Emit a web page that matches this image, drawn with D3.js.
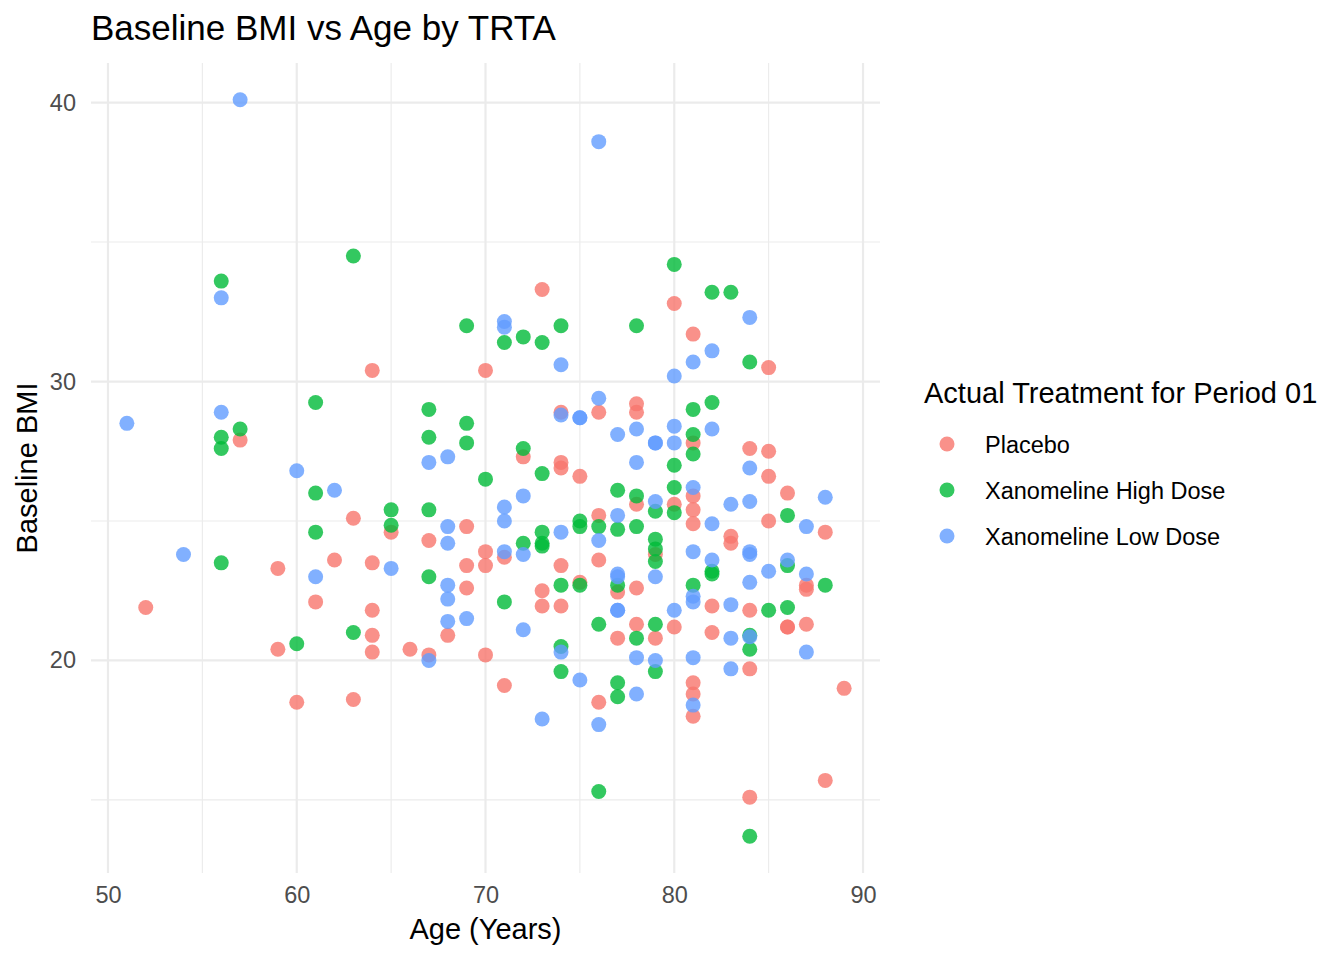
<!DOCTYPE html>
<html>
<head>
<meta charset="utf-8">
<script src="https://cdn.jsdelivr.net/npm/d3@7"></script>
<style>
  body { margin: 0; background: #fff; }
  text { font-family: "Liberation Sans", Arial, sans-serif; }
</style>
</head>
<body>
<div id="chart"></div>
<script>
// treatment groups, in legend order
var groups = ["Placebo", "Xanomeline High Dose", "Xanomeline Low Dose"];
var colors = ["#F8766D", "#00BA38", "#619CFF"];

// Placebo
var placeboAge = [52,57,59,59,60,61,62,63,63,64,64,64,64,64,65,66,67,67,68,69,69,69,70,70,70,70,71,71,72,73,73,73,74,74,74,74,74,75,75,76,76,76,76,77,77,78,78,78,78,78,79,79,80,80,80,81,81,81,81,81,81,81,81,82,82,83,83,84,84,84,84,85,85,85,85,86,86,86,87,87,87,88,88,89];
var placeboBmi = [21.9,27.9,23.3,20.4,18.5,22.1,23.6,25.1,18.6,30.4,23.5,21.8,20.9,20.3,24.6,20.4,24.3,20.2,20.9,24.8,23.4,22.6,30.4,23.9,23.4,20.2,23.7,19.1,27.3,33.3,22.5,21.95,28.9,27.1,26.9,23.4,21.95,26.6,22.8,28.9,25.2,23.6,18.5,22.45,20.8,29.2,28.9,25.6,22.6,21.3,23.8,20.8,32.8,25.6,21.2,31.7,27.8,25.9,25.4,24.9,19.2,18.8,18.0,21.95,21.0,24.45,24.2,27.6,21.8,19.7,15.1,30.5,27.5,26.6,25.0,26.0,21.2,21.2,22.7,22.55,21.3,24.6,15.7,19.0];

// Xanomeline High Dose
var highAge = [56,56,56,56,57,60,61,61,61,63,63,65,65,67,67,67,67,69,69,69,70,71,71,72,72,72,73,73,73,73,73,74,74,74,74,75,75,75,76,76,76,77,77,77,77,77,78,78,78,78,79,79,79,79,79,79,80,80,80,80,81,81,81,81,82,82,82,82,83,84,84,84,84,85,86,86,86,88];
var highBmi = [33.6,28.0,27.6,23.5,28.3,20.6,29.25,26.0,24.6,34.5,21.0,25.4,24.85,29.0,28.0,25.4,23.0,32.0,28.5,27.8,26.5,31.4,22.1,31.6,27.6,24.2,31.4,26.7,24.6,24.2,24.1,32.0,22.7,20.5,19.6,25.0,24.8,22.7,24.8,21.3,15.3,26.1,24.7,22.7,19.2,18.7,32.0,25.9,24.8,20.8,25.35,24.35,24.0,23.55,21.3,19.6,34.2,27.0,26.2,25.3,29.0,28.1,27.4,22.7,33.2,29.25,23.2,23.1,33.2,30.7,20.9,20.4,13.7,21.8,25.2,23.4,21.9,22.7];

// Xanomeline Low Dose
var lowAge = [51,54,56,56,57,60,61,62,65,67,67,68,68,68,68,68,68,69,71,71,71,71,71,72,72,72,73,74,74,74,74,75,75,75,76,76,76,76,77,77,77,77,77,77,78,78,78,78,79,79,79,79,79,80,80,80,80,81,81,81,81,81,81,81,82,82,82,82,83,83,83,83,84,84,84,84,84,84,84,85,86,87,87,87,88];
var lowBmi = [28.5,23.8,33.0,28.9,40.1,26.8,23.0,26.1,23.3,27.1,20.0,27.3,24.8,24.2,22.7,22.2,21.4,21.5,32.15,31.95,25.5,25.0,23.9,25.9,23.8,21.1,17.9,30.6,28.8,24.6,20.3,28.7,28.7,19.3,38.6,29.4,24.3,17.7,28.1,25.2,23.1,23.0,21.8,21.8,28.3,27.1,20.1,18.8,27.8,27.8,25.7,23.0,20.0,30.2,28.4,27.8,21.8,30.7,26.2,23.9,22.3,22.1,20.1,18.4,31.1,28.3,24.9,23.6,25.6,22.0,20.8,19.7,32.3,26.9,25.7,23.9,23.8,22.8,20.85,23.2,23.6,24.8,23.1,20.3,25.85];

var xMajor = [50, 60, 70, 80, 90];
var xMinor = [55, 65, 75, 85];
var yMajor = [20, 30, 40];
var yMinor = [15, 25, 35];

// build one point table from the arrays
var ages = [placeboAge, highAge, lowAge];
var bmis = [placeboBmi, highBmi, lowBmi];
var points = [];
groups.forEach(function(g, i) {
    ages[i].forEach(function(a, j) {
        points.push({ trta: g, age: a, bmi: bmis[i][j] });
    });
});

var svgWidth = 1344, svgHeight = 960;
var margin = { top: 63, right: 464, bottom: 87, left: 91 };
var width = svgWidth - margin.left - margin.right;
var height = svgHeight - margin.top - margin.bottom;

var svg = d3.select("#chart")
    .append("svg")
    .attr("width", svgWidth)
    .attr("height", svgHeight);

var chartGroup = svg.append("g")
    .attr("transform", `translate(${margin.left}, ${margin.top})`);

// ggplot style 5% expansion
var xExt = d3.extent(points, d => d.age);
var yExt = d3.extent(points, d => d.bmi);
var xPad = (xExt[1] - xExt[0]) * 0.05;
var yPad = (yExt[1] - yExt[0]) * 0.05;

var xScale = d3.scaleLinear()
    .domain([xExt[0] - xPad, xExt[1] + xPad])
    .range([0, width]);
var yScale = d3.scaleLinear()
    .domain([yExt[0] - yPad, yExt[1] + yPad])
    .range([height, 0]);
var colorScale = d3.scaleOrdinal().domain(groups).range(colors);

// grid lines
chartGroup.selectAll(".xminor").data(xMinor).enter().append("line")
    .attr("x1", d => xScale(d)).attr("x2", d => xScale(d))
    .attr("y1", 0).attr("y2", height)
    .attr("stroke", "#EBEBEB").attr("stroke-width", 1.1);
chartGroup.selectAll(".yminor").data(yMinor).enter().append("line")
    .attr("y1", d => yScale(d)).attr("y2", d => yScale(d))
    .attr("x1", 0).attr("x2", width)
    .attr("stroke", "#EBEBEB").attr("stroke-width", 1.1);
chartGroup.selectAll(".xmajor").data(xMajor).enter().append("line")
    .attr("x1", d => xScale(d)).attr("x2", d => xScale(d))
    .attr("y1", 0).attr("y2", height)
    .attr("stroke", "#EBEBEB").attr("stroke-width", 2.2);
chartGroup.selectAll(".ymajor").data(yMajor).enter().append("line")
    .attr("y1", d => yScale(d)).attr("y2", d => yScale(d))
    .attr("x1", 0).attr("x2", width)
    .attr("stroke", "#EBEBEB").attr("stroke-width", 2.2);

// axes (no lines, only labels)
var bottomAxis = d3.axisBottom(xScale).tickValues(xMajor).tickSize(0).tickPadding(13);
var leftAxis = d3.axisLeft(yScale).tickValues(yMajor).tickSize(0).tickPadding(15);

var xAxisG = chartGroup.append("g")
    .attr("transform", `translate(0, ${height})`)
    .call(bottomAxis);
var yAxisG = chartGroup.append("g").call(leftAxis);
[xAxisG, yAxisG].forEach(function(g) {
    g.select(".domain").remove();
    g.selectAll("text")
        .attr("fill", "#4D4D4D")
        .style("font-size", "23.5px")
        .style("font-family", "'Liberation Sans', Arial, sans-serif");
});

// points
chartGroup.selectAll("circle.pt")
    .data(points)
    .enter()
    .append("circle")
    .attr("class", "pt")
    .attr("cx", d => xScale(d.age))
    .attr("cy", d => yScale(d.bmi))
    .attr("r", 7.5)
    .attr("fill", d => colorScale(d.trta))
    .attr("opacity", 0.8);

// title and axis titles
svg.append("text")
    .attr("x", 91).attr("y", 40)
    .style("font-size", "35px")
    .attr("fill", "#000")
    .text("Baseline BMI vs Age by TRTA");

svg.append("text")
    .attr("x", margin.left + width / 2).attr("y", 939)
    .attr("text-anchor", "middle")
    .style("font-size", "29px")
    .text("Age (Years)");

svg.append("text")
    .attr("transform", `translate(37, ${margin.top + height / 2}) rotate(-90)`)
    .attr("text-anchor", "middle")
    .style("font-size", "29px")
    .text("Baseline BMI");

// legend
var legend = svg.append("g").attr("transform", "translate(924, 0)");
legend.append("text")
    .attr("x", 0).attr("y", 403)
    .style("font-size", "29px")
    .text("Actual Treatment for Period 01");

var items = legend.selectAll(".item")
    .data(groups)
    .enter()
    .append("g")
    .attr("transform", (d, i) => `translate(0, ${444 + i * 46})`);
items.append("circle")
    .attr("cx", 23).attr("cy", 0).attr("r", 7.5)
    .attr("fill", d => colorScale(d))
    .attr("opacity", 0.8);
items.append("text")
    .attr("x", 61).attr("y", 8.5)
    .style("font-size", "23.5px")
    .text(d => d);
</script>
</body>
</html>
